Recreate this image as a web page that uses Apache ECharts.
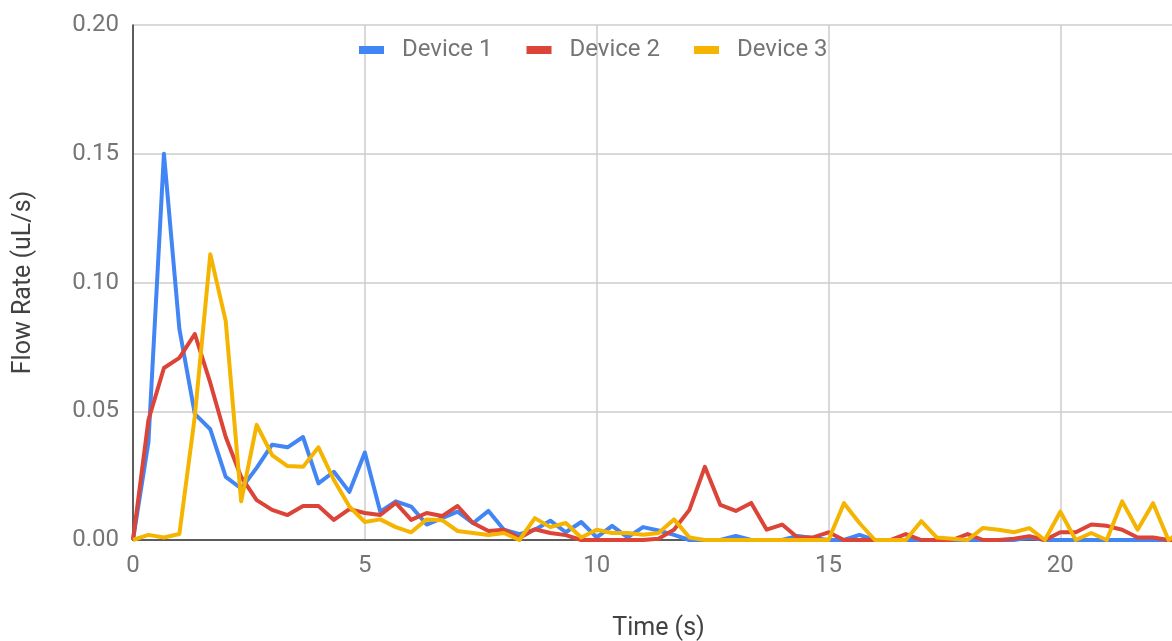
<!DOCTYPE html>
<html>
<head>
<meta charset="utf-8">
<title>Flow Rate vs Time</title>
<script src="https://cdn.jsdelivr.net/npm/echarts@6/dist/echarts.min.js"></script>
<style>
  html, body { margin: 0; padding: 0; background: #fff; overflow: hidden; }
  #chart { width: 1190px; height: 641px; }
</style>
</head>
<body>
<div id="chart"></div>
<script>
// Sample times (s), one reading every third of a second
const times = [
  0, 0.333, 0.667, 1, 1.333, 1.667, 2, 2.333, 2.667, 3, 3.333, 3.667,
  4, 4.333, 4.667, 5, 5.333, 5.667, 6, 6.333, 6.667, 7, 7.333, 7.667,
  8, 8.333, 8.667, 9, 9.333, 9.667, 10, 10.333, 10.667, 11, 11.333, 11.667,
  12, 12.333, 12.667, 13, 13.333, 13.667, 14, 14.333, 14.667, 15, 15.333, 15.667,
  16, 16.333, 16.667, 17, 17.333, 17.667, 18, 18.333, 18.667, 19, 19.333, 19.667,
  20, 20.333, 20.667, 21, 21.333, 21.667, 22, 22.333, 22.667
];

// Flow rate readings (uL/s)
const device1 = [
  0, 0.038, 0.150, 0.082, 0.049, 0.043, 0.0245, 0.020, 0.028, 0.037, 0.036, 0.040,
  0.022, 0.0265, 0.0187, 0.034, 0.011, 0.015, 0.013, 0.006, 0.0085, 0.011, 0.0065, 0.0113,
  0.004, 0.0023, 0.004, 0.0075, 0.003, 0.007, 0.001, 0.0055, 0.001, 0.005, 0.0037, 0.002,
  0, 0, 0, 0.0016, 0, 0, 0, 0.0016, 0.0008, 0, 0, 0.002,
  0, 0, 0, 0, 0, 0, 0, 0, 0, 0, 0.001, 0,
  0, 0, 0, 0, 0, 0, 0, 0, 0
];
const device2 = [
  0, 0.0466, 0.0668, 0.0707, 0.080, 0.061, 0.040, 0.0245, 0.0155, 0.0117, 0.0097, 0.0132,
  0.0132, 0.0078, 0.012, 0.0105, 0.0097, 0.0144, 0.0078, 0.0105, 0.0093, 0.0132, 0.0066, 0.0035,
  0.004, 0.0008, 0.0042, 0.0027, 0.0019, 0, 0, 0, 0, 0, 0.0005, 0.004,
  0.0117, 0.0284, 0.0136, 0.0113, 0.0144, 0.004, 0.006, 0.001, 0.001, 0.003, 0, 0,
  0, 0, 0.0023, 0, 0, 0, 0.0023, 0, 0, 0.0005, 0.0015, 0,
  0.003, 0.003, 0.006, 0.0055, 0.004, 0.001, 0.001, 0, 0
];
const device3 = [
  0, 0.002, 0.001, 0.0023, 0.048, 0.111, 0.085, 0.015, 0.0447, 0.033, 0.0287, 0.0284,
  0.036, 0.0233, 0.013, 0.007, 0.008, 0.005, 0.003, 0.008, 0.0077, 0.0035, 0.0027, 0.0019,
  0.0027, 0, 0.0085, 0.005, 0.0066, 0.001, 0.004, 0.0027, 0.0027, 0.002, 0.0027, 0.008,
  0.001, 0, 0, 0, 0, 0, 0, 0, 0, 0, 0.0143, 0.0066,
  0, 0, 0, 0.0073, 0.001, 0.0005, 0, 0.0047, 0.004, 0.003, 0.0046, 0,
  0.011, 0, 0.0027, 0, 0.015, 0.004, 0.0143, 0, 0.004
];

const seriesNames = ['Device 1', 'Device 2', 'Device 3'];
const seriesColors = ['#4285F4', '#DB4437', '#F4B400'];
const yTicks = [0, 0.05, 0.10, 0.15, 0.20];
const xTicks = [0, 5, 10, 15, 20];

const pairs = (vals) => vals.map((v, i) => [times[i], v]);
const font = 'Roboto, "Noto Sans", Arial, sans-serif';

const chart = echarts.init(document.getElementById('chart'), null, {
  renderer: 'canvas', width: 1190, height: 641
});

chart.setOption({
  animation: false,
  backgroundColor: '#ffffff',
  color: seriesColors,
  textStyle: { fontFamily: font },
  // fixed plot rectangle; the last few samples run past the visible page edge
  grid: {
    left: 133, right: 6, top: 25, bottom: 101,
    containLabel: false,
    outerBoundsMode: 'none'
  },
  legend: {
    data: seriesNames,
    left: 359,
    top: 38,
    padding: 0,
    icon: 'rect',
    itemWidth: 25,
    itemHeight: 8,
    itemGap: 34,
    textStyle: {
      fontFamily: font,
      fontSize: 24,
      color: '#757575',
      lineHeight: 24,
      padding: [0, 0, 0, 13]
    }
  },
  xAxis: {
    type: 'value',
    min: 0,
    max: times[times.length - 1],
    interval: 5,
    name: 'Time (s)',
    nameLocation: 'middle',
    nameGap: 76,
    nameTextStyle: { fontFamily: font, fontSize: 25, color: '#424242' },
    axisLine: { show: true, onZero: false, lineStyle: { color: '#333333', width: 1.5 } },
    axisTick: { show: false },
    axisLabel: {
      margin: 14,
      fontSize: 24,
      color: '#757575',
      fontFamily: font,
      showMaxLabel: false,
      formatter: (v) => (xTicks.indexOf(v) >= 0 ? String(v) : '')
    },
    splitLine: { show: true, lineStyle: { color: '#cccccc', width: 1.5 } }
  },
  yAxis: {
    type: 'value',
    min: yTicks[0],
    max: yTicks[yTicks.length - 1],
    interval: 0.05,
    name: 'Flow Rate (uL/s)',
    nameLocation: 'middle',
    nameGap: 97,
    nameTextStyle: { fontFamily: font, fontSize: 25, color: '#424242' },
    axisLine: { show: true, lineStyle: { color: '#333333', width: 1.5 } },
    axisTick: { show: false },
    axisLabel: {
      margin: 14,
      fontSize: 24,
      color: '#757575',
      fontFamily: font,
      formatter: (v) => v.toFixed(2)
    },
    splitLine: { show: true, lineStyle: { color: '#cccccc', width: 1.5 } }
  },
  series: [device1, device2, device3].map((vals, i) => ({
    name: seriesNames[i],
    type: 'line',
    data: pairs(vals),
    showSymbol: false,
    symbol: 'none',
    smooth: false,
    lineStyle: { width: 4, color: seriesColors[i], join: 'round' },
    itemStyle: { color: seriesColors[i] },
    z: 2 + i
  }))
});
</script>
</body>
</html>
